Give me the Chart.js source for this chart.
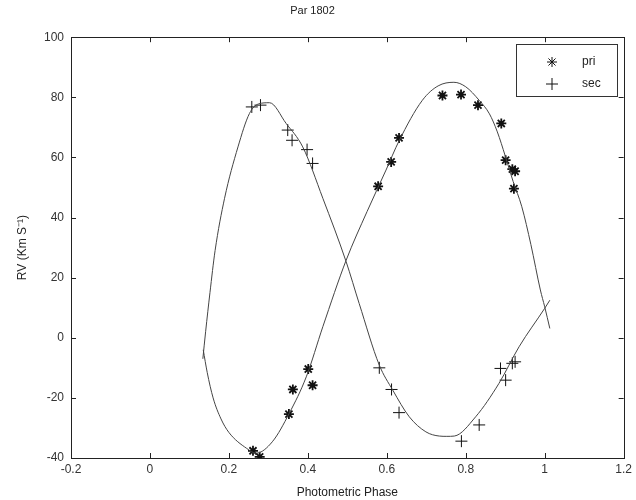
<!DOCTYPE html>
<html>
<head>
<meta charset="utf-8">
<title>Par 1802</title>
<script src="https://cdn.jsdelivr.net/npm/chart.js@4.4.1/dist/chart.umd.min.js"></script>
<style>
html, body { margin: 0; padding: 0; background: #fff; }
#wrap { width: 636px; height: 500px; }
</style>
</head>
<body>
<div id="wrap"><canvas id="rvChart" width="636" height="500"></canvas></div>
<script>
// observed radial velocities (phase, km/s)
const priPhase = [0.261, 0.278, 0.352, 0.362, 0.401, 0.412, 0.578, 0.611, 0.631, 0.741, 0.788, 0.831, 0.890, 0.901, 0.918, 0.925, 0.922];
const priRV    = [-37.6, -39.6, -25.4, -17.2, -10.4, -15.8, 50.4, 58.5, 66.5, 80.6, 80.9, 77.4, 71.3, 59.1, 56.1, 55.4, 49.6];
const secPhase = [0.258, 0.280, 0.349, 0.360, 0.398, 0.412, 0.581, 0.612, 0.631, 0.789, 0.834, 0.888, 0.901, 0.918, 0.925];
const secRV    = [76.8, 77.4, 69.1, 65.7, 62.6, 58.0, -10.0, -17.2, -24.9, -34.4, -29.0, -10.2, -14.1, -8.5, -8.0];

// fitted curves
const priFitPhase = [0.135, 0.145, 0.16, 0.18, 0.2, 0.245, 0.269, 0.31, 0.353, 0.396, 0.438, 0.497, 0.55, 0.598, 0.631, 0.69, 0.73, 0.77, 0.80, 0.834, 0.86, 0.88, 0.90, 0.92, 0.942, 0.965, 0.989, 1.0, 1.013];
const priFitRV    = [-4, -11.5, -20, -27, -31.5, -36.8, -38.4, -34.6, -25.1, -13, 3.7, 25.8, 42, 55.8, 65.5, 79, 83.8, 85, 83.5, 79, 74.5, 68.5, 60.5, 52, 43.6, 31, 15.9, 10.3, 3.1];
const secFitPhase = [0.134, 0.141, 0.152, 0.165, 0.189, 0.223, 0.252, 0.275, 0.303, 0.345, 0.387, 0.438, 0.497, 0.530, 0.581, 0.615, 0.657, 0.699, 0.733, 0.752, 0.771, 0.825, 0.884, 0.935, 1.0, 1.013];
const secFitRV    = [-7, 2, 15, 29, 46.4, 63.5, 74.6, 77.8, 78.2, 71.3, 63.5, 46.4, 25.3, 11.4, -9.1, -17.4, -26.3, -31.3, -32.7, -32.8, -32.7, -26.3, -15.2, -3.0, 9.8, 12.5];

const xTicks = [-0.2, 0, 0.2, 0.4, 0.6, 0.8, 1, 1.2];
const yTicks = [-40, -20, 0, 20, 40, 60, 80, 100];

const FONT = "'Liberation Sans', Arial, sans-serif";
const pts = (xs, ys) => xs.map((x, i) => ({ x: x, y: ys[i] }));

// matlab style box with inward ticks on all four sides
const boxPlugin = {
    id: 'boxTicks',
    afterDraw(chart) {
        const { ctx, chartArea: a, scales } = chart;
        ctx.save();
        ctx.strokeStyle = '#222';
        ctx.lineWidth = 1;
        ctx.strokeRect(Math.round(a.left) + 0.5, Math.round(a.top) + 0.5, Math.round(a.right - a.left), Math.round(a.bottom - a.top));
        ctx.beginPath();
        xTicks.forEach(v => {
            const px = Math.round(scales.x.getPixelForValue(v)) + 0.5;
            ctx.moveTo(px, a.bottom); ctx.lineTo(px, a.bottom - 5);
            ctx.moveTo(px, a.top); ctx.lineTo(px, a.top + 5);
        });
        yTicks.forEach(v => {
            const py = Math.round(scales.y.getPixelForValue(v)) + 0.5;
            ctx.moveTo(a.left, py); ctx.lineTo(a.left + 5, py);
            ctx.moveTo(a.right, py); ctx.lineTo(a.right - 5, py);
        });
        ctx.stroke();

        // legend box top-right
        const lx = 516, ly = 44, lw = 101, lh = 52;
        ctx.fillStyle = '#fff';
        ctx.fillRect(lx, ly, lw, lh);
        ctx.strokeStyle = '#333';
        ctx.strokeRect(lx + 0.5, ly + 0.5, lw, lh);
        ctx.font = '12px ' + FONT;
        ctx.textBaseline = 'middle';
        chart.data.datasets.filter(d => d.inLegend).forEach((d, i) => {
            const cy = ly + 18 + i * 22;
            ctx.strokeStyle = '#111';
            ctx.fillStyle = '#111';
            Chart.helpers.drawPoint(ctx, {
                pointStyle: d.pointStyle, radius: d.pointRadius, borderWidth: d.borderWidth
            }, 552, cy);
            ctx.fillStyle = '#222';
            ctx.fillText(d.label, 582, cy);
        });
        ctx.restore();
    }
};

new Chart(document.getElementById('rvChart'), {
    type: 'scatter',
    data: {
        datasets: [
            { label: 'pri fit', data: pts(priFitPhase, priFitRV), showLine: true, pointRadius: 0, borderColor: '#444', borderWidth: 1, cubicInterpolationMode: 'monotone' },
            { label: 'sec fit', data: pts(secFitPhase, secFitRV), showLine: true, pointRadius: 0, borderColor: '#444', borderWidth: 1, cubicInterpolationMode: 'monotone' },
            { label: 'pri', inLegend: true, data: pts(priPhase, priRV), pointStyle: 'star', pointRadius: 5, borderWidth: 1.8, borderColor: '#111', backgroundColor: '#111' },
            { label: 'sec', inLegend: true, data: pts(secPhase, secRV), pointStyle: 'cross', pointRadius: 6, borderWidth: 1, borderColor: '#111', backgroundColor: '#111' }
        ]
    },
    options: {
        responsive: false,
        animation: false,
        layout: { padding: { left: 0, right: 11, top: 0, bottom: 0 } },
        plugins: {
            legend: { display: false },
            tooltip: { enabled: false },
            title: {
                display: true, text: 'Par 1802', color: '#222',
                font: { family: FONT, size: 11, weight: 'normal' },
                padding: { top: 4, bottom: 20 }
            }
        },
        scales: {
            x: {
                type: 'linear', min: -0.2, max: 1.2,
                grid: { display: false, drawTicks: false }, border: { display: false },
                afterBuildTicks: s => { s.ticks = xTicks.map(v => ({ value: v })); },
                ticks: { color: '#333', font: { family: FONT, size: 12 }, padding: 4, maxRotation: 0, autoSkip: false,
                    callback: v => String(Math.round(v * 10) / 10) },
                title: { display: true, text: 'Photometric Phase', color: '#222', font: { family: FONT, size: 12 }, padding: { top: 3, bottom: 0 } },
                afterFit: s => { s.height = 42; }
            },
            y: {
                min: -40, max: 100,
                grid: { display: false, drawTicks: false }, border: { display: false },
                afterBuildTicks: s => { s.ticks = yTicks.map(v => ({ value: v })); },
                ticks: { color: '#333', font: { family: FONT, size: 12 }, padding: 7 },
                title: { display: true, text: 'RV (Km S\u207B\u00B9)', color: '#222', font: { family: FONT, size: 12 }, padding: { top: 15, bottom: 0 } },
                afterFit: s => { s.width = 71; }
            }
        }
    },
    plugins: [boxPlugin]
});
</script>
</body>
</html>
